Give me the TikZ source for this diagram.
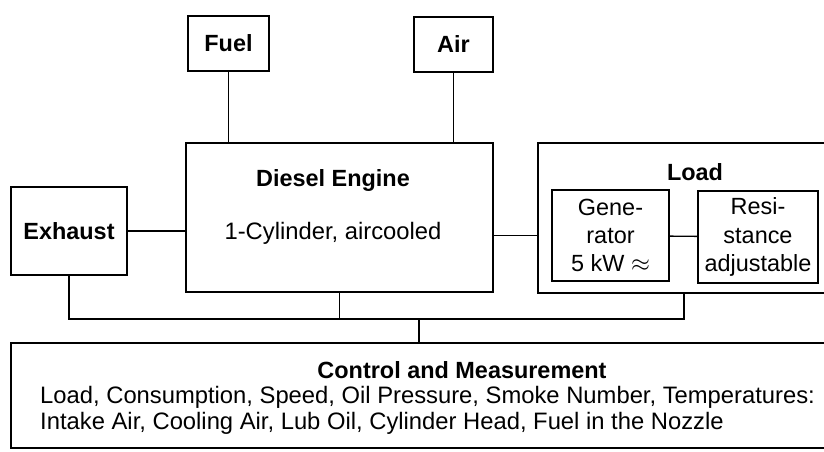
\documentclass[tikz,border=0pt]{standalone}
\usepackage{fontspec}
\setmainfont{Liberation Sans}
\usetikzlibrary{positioning}

\begin{document}
\begin{tikzpicture}[
  x=0.03cm, y=-0.03cm,
  font=\fontsize{20.3}{22}\selectfont,
  blk/.style={draw, line width=1.5pt, inner sep=0pt, align=center},
  lbl/.style={align=center, inner sep=0pt},
  wire/.style={line width=1.1pt},
]
\useasboundingbox (0,0) rectangle (824,451);

% ---------- supplies ----------
\node[blk, minimum width=81*0.03cm, minimum height=55*0.03cm, font=\fontsize{20}{22}\bfseries]
  (fuel) at (228.5,43.5) {Fuel};
\node[blk, minimum width=79*0.03cm, minimum height=55*0.03cm, font=\fontsize{20}{22}\bfseries]
  (air) at (453.5,44.5) {Air};

% ---------- engine ----------
\node[blk, minimum width=307*0.03cm, minimum height=149*0.03cm] (engine) at (339.5,217.5) {};
\node[lbl, font=\fontsize{20}{22}\bfseries] (engname) at (333,180) {Diesel Engine};
\node[lbl] (engtype) at (333,233) {1-Cylinder, aircooled};

\node[blk, minimum width=116*0.03cm, minimum height=88*0.03cm, font=\fontsize{20}{22}\bfseries]
  (exhaust) at (69,231) {Exhaust};

% ---------- load (runs off the right edge) ----------
\node[blk, minimum width=292*0.03cm, minimum height=150*0.03cm] (load) at (684,218) {};
\node[lbl, font=\fontsize{20}{22}\bfseries] (loadname) at (695,172) {Load};
\node[blk, minimum width=117*0.03cm, minimum height=91*0.03cm, font=\fontsize{20}{24}\selectfont]
  (gen) at (610.5,235.5) {Gene-\\rator\\5 kW $\approx$};
\node[blk, minimum width=120*0.03cm, minimum height=92*0.03cm, font=\fontsize{20}{24}\selectfont]
  (res) at (758,237) {Resi-\\stance\\adjustable};

% ---------- control ----------
\node[blk, minimum width=819*0.03cm, minimum height=105*0.03cm] (ctrl) at (420.5,395.5) {};
\node[lbl, font=\fontsize{20}{22}\bfseries] (ctrlname) at (462,370) {Control and Measurement};
\node[lbl, align=left, anchor=west] (ctrlitems) at (40,410)
  {Load, Consumption, Speed, Oil Pressure, Smoke Number, Temperatures:\\
   Intake Air, Cooling Air, Lub Oil, Cylinder Head, Fuel in the Nozzle};

% ---------- connections ----------
\draw[wire] (fuel) -- (fuel |- engine.north);
\draw[wire] (air) -- (air |- engine.north);
\draw[wire] (exhaust) -- (exhaust -| engine.west);
\draw[wire] (engine.east |- gen) -- (load.west |- gen);
\draw[wire] (gen) -- (res);

\coordinate (bus) at (419,319);
\draw[wire] (exhaust.south) |- (load.south |- bus) -- (load.south);
\draw[wire] (engine.south) -- (engine.south |- bus);
\draw[wire] (bus) -- (bus |- ctrl.north);

\end{tikzpicture}
\end{document}
